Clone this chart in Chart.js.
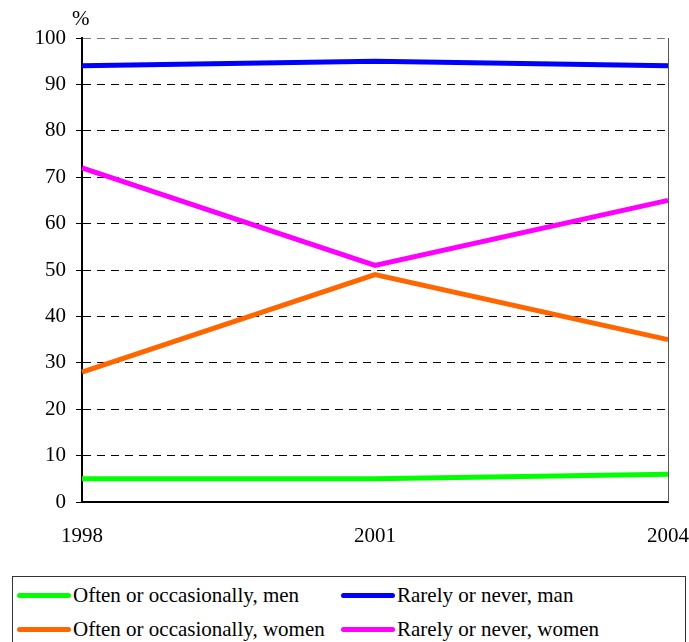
<!DOCTYPE html>
<html>
<head>
<meta charset="utf-8">
<script src="https://cdn.jsdelivr.net/npm/chart.js@4/dist/chart.umd.min.js"></script>
<style>
  body { margin: 0; background: #fff; font-family: "Liberation Serif", "Times New Roman", serif; }
  #wrap { position: relative; width: 689px; height: 642px; overflow: hidden; }
  #chartBox { position: absolute; left: 0; top: 0; width: 689px; height: 560px; }
  #legend {
    position: absolute; left: 12px; top: 576px; width: 674px; height: 80px;
    border: 1px solid #333; box-sizing: border-box;
    display: grid; grid-template-columns: 324px 324px; grid-auto-rows: 34px;
    padding-top: 1px; font-size: 21px; color: #000;
  }
  .item { display: flex; align-items: center; white-space: nowrap; }
  .swatch { display: inline-block; width: 54px; height: 5px; border-radius: 2.5px; margin: 0 2px 0 4px; }
</style>
</head>
<body>
<div id="wrap">
  <div id="chartBox"><canvas id="c"></canvas></div>
  <div id="legend"></div>
</div>
<script>
// years on the x axis
const years = ['1998', '2001', '2004'];

// shares in %
const oftenMen = [5, 5, 6];
const rarelyMan = [94, 95, 94];
const oftenWomen = [28, 49, 35];
const rarelyWomen = [72, 51, 65];

const seriesNames = [
  'Often or occasionally, men',
  'Rarely or never, man',
  'Often or occasionally, women',
  'Rarely or never, women'
];
const seriesColors = ['#00ff00', '#0000ff', '#ff6600', '#ff00ff'];
const seriesValues = [oftenMen, rarelyMan, oftenWomen, rarelyWomen];

const font = { family: '"Liberation Serif", "Times New Roman", serif', size: 21 };

// right frame line and the "%" unit label
const extras = {
  id: 'extras',
  afterDraw(chart) {
    const { ctx, chartArea: a } = chart;
    ctx.save();
    ctx.strokeStyle = '#555';
    ctx.lineWidth = 1;
    ctx.beginPath();
    ctx.moveTo(a.right + 0.5, a.top);
    ctx.lineTo(a.right + 0.5, a.bottom);
    ctx.stroke();
    ctx.fillStyle = '#000';
    ctx.font = '21px ' + font.family;
    ctx.textBaseline = 'alphabetic';
    ctx.fillText('%', a.left - 10, a.top - 13);
    ctx.restore();
  }
};

const chart = new Chart(document.getElementById('c'), {
  type: 'line',
  data: {
    labels: years,
    datasets: seriesValues.map((v, i) => ({
      label: seriesNames[i],
      data: v,
      borderColor: seriesColors[i],
      backgroundColor: seriesColors[i],
      borderWidth: 5,
      pointRadius: 0,
      tension: 0
    }))
  },
  options: {
    responsive: true,
    maintainAspectRatio: false,
    animation: false,
    layout: { padding: { top: 38, right: 21, left: 0, bottom: 0 } },
    plugins: { legend: { display: false }, tooltip: { enabled: false } },
    scales: {
      x: {
        offset: false,
        grid: { display: false },
        border: { color: '#000', width: 2 },
        ticks: { color: '#000', font, padding: 14, maxRotation: 0 },
        afterFit(s) { s.height = 58; s.paddingLeft = 0; s.paddingRight = 0; }
      },
      y: {
        min: 0, max: 100,
        grid: {
          color: ctx => ctx.tick && ctx.tick.value === 100 ? '#777' : '#000',
          lineWidth: 1,
          tickLength: 6,
          tickColor: '#000',
          tickBorderDash: []
        },
        border: { color: '#000', width: 2, dash: [8, 6] },
        ticks: { stepSize: 10, color: '#000', font, padding: 10 },
        afterFit(s) { s.width = 82; s.paddingTop = 0; s.paddingBottom = 0; }
      }
    }
  },
  plugins: [extras]
});

// html legend built from the datasets
const legend = document.getElementById('legend');
chart.data.datasets.forEach(ds => {
  const item = document.createElement('div');
  item.className = 'item';
  item.innerHTML = '<span class="swatch" style="background:' + ds.borderColor + '"></span>' + ds.label;
  legend.appendChild(item);
});
</script>
</body>
</html>
